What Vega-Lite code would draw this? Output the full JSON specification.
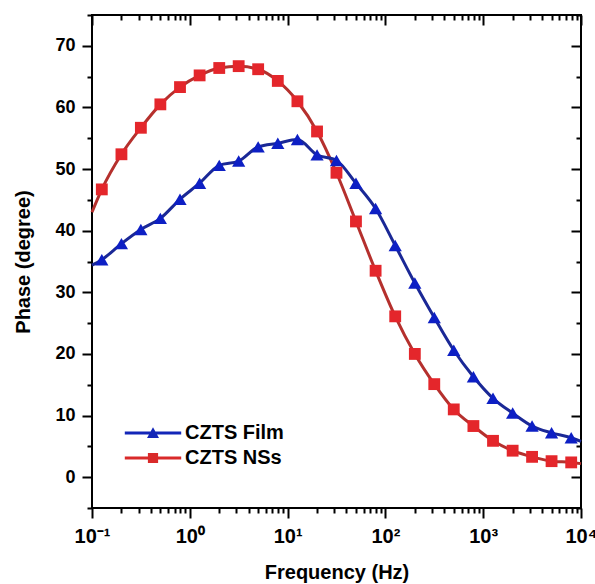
{
  "$schema": "https://vega.github.io/schema/vega-lite/v6.json",
  "width": 489,
  "height": 493,
  "autosize": "none",
  "padding": {"left": 92, "top": 15, "right": 14, "bottom": 76},
  "background": "white",
  "config": {
    "view": {"stroke": "black", "strokeWidth": 2},
    "font": "Liberation Sans",
    "axis": {"grid": false, "domain": false, "tickColor": "black", "tickWidth": 2, "labelColor": "black", "titleColor": "black", "labelFont": "Liberation Sans", "titleFont": "Liberation Sans", "labelFontWeight": "bold", "titleFontWeight": "bold"}
  },
  "data": {
    "values": [
      {"series": "CZTS NSs", "f": 0.1, "phase": 43.0},
      {"series": "CZTS NSs", "f": 0.126, "phase": 46.7},
      {"series": "CZTS NSs", "f": 0.2, "phase": 52.4},
      {"series": "CZTS NSs", "f": 0.316, "phase": 56.7},
      {"series": "CZTS NSs", "f": 0.5, "phase": 60.5},
      {"series": "CZTS NSs", "f": 0.794, "phase": 63.3},
      {"series": "CZTS NSs", "f": 1.26, "phase": 65.2},
      {"series": "CZTS NSs", "f": 2.0, "phase": 66.4},
      {"series": "CZTS NSs", "f": 3.16, "phase": 66.7},
      {"series": "CZTS NSs", "f": 5.0, "phase": 66.2},
      {"series": "CZTS NSs", "f": 7.94, "phase": 64.3},
      {"series": "CZTS NSs", "f": 12.6, "phase": 61.0},
      {"series": "CZTS NSs", "f": 20, "phase": 56.1},
      {"series": "CZTS NSs", "f": 31.6, "phase": 49.4},
      {"series": "CZTS NSs", "f": 50, "phase": 41.5},
      {"series": "CZTS NSs", "f": 79.4, "phase": 33.5},
      {"series": "CZTS NSs", "f": 126, "phase": 26.1},
      {"series": "CZTS NSs", "f": 200, "phase": 20.0},
      {"series": "CZTS NSs", "f": 316, "phase": 15.1},
      {"series": "CZTS NSs", "f": 500, "phase": 11.0},
      {"series": "CZTS NSs", "f": 794, "phase": 8.3},
      {"series": "CZTS NSs", "f": 1260, "phase": 5.9},
      {"series": "CZTS NSs", "f": 2000, "phase": 4.3},
      {"series": "CZTS NSs", "f": 3160, "phase": 3.3},
      {"series": "CZTS NSs", "f": 5000, "phase": 2.6},
      {"series": "CZTS NSs", "f": 7940, "phase": 2.4},
      {"series": "CZTS NSs", "f": 10000, "phase": 2.2},
      {"series": "CZTS Film", "f": 0.1, "phase": 34.4},
      {"series": "CZTS Film", "f": 0.126, "phase": 35.3},
      {"series": "CZTS Film", "f": 0.2, "phase": 37.9},
      {"series": "CZTS Film", "f": 0.316, "phase": 40.2},
      {"series": "CZTS Film", "f": 0.5, "phase": 42.0},
      {"series": "CZTS Film", "f": 0.794, "phase": 45.1},
      {"series": "CZTS Film", "f": 1.26, "phase": 47.7},
      {"series": "CZTS Film", "f": 2.0, "phase": 50.6},
      {"series": "CZTS Film", "f": 3.16, "phase": 51.3},
      {"series": "CZTS Film", "f": 5.0, "phase": 53.6},
      {"series": "CZTS Film", "f": 7.94, "phase": 54.2},
      {"series": "CZTS Film", "f": 12.6, "phase": 54.8},
      {"series": "CZTS Film", "f": 20, "phase": 52.3},
      {"series": "CZTS Film", "f": 31.6, "phase": 51.4},
      {"series": "CZTS Film", "f": 50, "phase": 47.7},
      {"series": "CZTS Film", "f": 79.4, "phase": 43.6},
      {"series": "CZTS Film", "f": 126, "phase": 37.6},
      {"series": "CZTS Film", "f": 200, "phase": 31.5},
      {"series": "CZTS Film", "f": 316, "phase": 25.9},
      {"series": "CZTS Film", "f": 500, "phase": 20.6},
      {"series": "CZTS Film", "f": 794, "phase": 16.3},
      {"series": "CZTS Film", "f": 1260, "phase": 12.8},
      {"series": "CZTS Film", "f": 2000, "phase": 10.4},
      {"series": "CZTS Film", "f": 3160, "phase": 8.3},
      {"series": "CZTS Film", "f": 5000, "phase": 7.2},
      {"series": "CZTS Film", "f": 7940, "phase": 6.4},
      {"series": "CZTS Film", "f": 10000, "phase": 5.8}
    ]
  },
  "layer": [
    {
      "mark": {"type": "line", "interpolate": "monotone", "strokeWidth": 3},
      "encoding": {
        "x": {"field": "f", "type": "quantitative", "scale": {"type": "log", "domain": [0.1, 10000], "nice": false},
          "axis": {"orient": "bottom", "values": [0.1, 1, 10, 100, 1000, 10000], "tickSize": 10, "labelFontSize": 20, "labelPadding": 8, "labelFlush": false, "labelOverlap": false, "labelBound": false,
            "labelExpr": "datum.value < 0.5 ? '10⁻¹' : datum.value < 5 ? '10⁰' : datum.value < 50 ? '10¹' : datum.value < 500 ? '10²' : datum.value < 5000 ? '10³' : '10⁴'",
            "title": "Frequency (Hz)", "titleFontSize": 20, "titlePadding": 16}},
        "y": {"field": "phase", "type": "quantitative", "scale": {"domain": [-5, 75], "nice": false, "zero": false},
          "axis": {"orient": "left", "values": [0, 10, 20, 30, 40, 50, 60, 70], "tickSize": 10, "labelFontSize": 18, "labelPadding": 7,
            "title": "Phase (degree)", "titleFontSize": 20, "titlePadding": 21}},
        "stroke": {"field": "series", "type": "nominal", "scale": {"domain": ["CZTS Film", "CZTS NSs"], "range": ["#1a2896", "#b5302d"]},
          "legend": {"orient": "none", "legendX": 29, "legendY": 408, "title": null, "padding": 0, "labelFont": "Liberation Sans", "labelFontSize": 20, "labelFontWeight": "bold", "labelColor": "black", "symbolSize": 144, "symbolOffset": 22, "labelOffset": 22, "rowPadding": 5, "symbolStrokeWidth": 0,
            "encode": {"symbols": {"update": {
              "shape": {"signal": "datum.value === 'CZTS Film' ? 'M-4.7,-0.25L4.7,-0.25L4.7,0.25L-4.7,0.25ZM-1,0.85L0,-0.95L1,0.85Z' : 'M-4.7,-0.25L4.7,-0.25L4.7,0.25L-4.7,0.25ZM-0.85,-0.85L0.85,-0.85L0.85,0.85L-0.85,0.85Z'"},
              "fill": {"signal": "datum.value === 'CZTS Film' ? '#1326b8' : '#d92a2a'"},
              "strokeWidth": {"value": 0},
              "opacity": {"value": 1}
            }}}}}
      }
    },
    {
      "transform": [{"filter": "datum.series === 'CZTS Film' && datum.f > 0.1 && datum.f < 10000"}],
      "mark": {"type": "point", "shape": "triangle-up", "filled": true, "size": 175, "opacity": 1, "color": "#0d1fc4"},
      "encoding": {
        "x": {"field": "f", "type": "quantitative", "scale": {"type": "log", "domain": [0.1, 10000], "nice": false},
          "axis": {"orient": "bottom", "values": [0.2, 0.3, 0.4, 0.5, 0.6, 0.7, 0.8, 0.9, 2, 3, 4, 5, 6, 7, 8, 9, 20, 30, 40, 50, 60, 70, 80, 90, 200, 300, 400, 500, 600, 700, 800, 900, 2000, 3000, 4000, 5000, 6000, 7000, 8000, 9000], "tickSize": 5, "labels": false, "title": null}},
        "y": {"field": "phase", "type": "quantitative", "scale": {"domain": [-5, 75], "nice": false, "zero": false},
          "axis": {"orient": "left", "values": [-5, 5, 15, 25, 35, 45, 55, 65, 75], "tickSize": 5, "labels": false, "title": null}}
      }
    },
    {
      "transform": [{"filter": "datum.series === 'CZTS NSs' && datum.f > 0.1 && datum.f < 10000"}],
      "mark": {"type": "point", "shape": "square", "filled": true, "size": 140, "opacity": 1, "color": "#e4262b"},
      "encoding": {
        "x": {"field": "f", "type": "quantitative", "scale": {"type": "log", "domain": [0.1, 10000], "nice": false},
          "axis": {"orient": "top", "values": [0.1, 1, 10, 100, 1000, 10000], "tickSize": -10, "labels": false, "title": null}},
        "y": {"field": "phase", "type": "quantitative", "scale": {"domain": [-5, 75], "nice": false, "zero": false},
          "axis": {"orient": "right", "values": [0, 10, 20, 30, 40, 50, 60, 70], "tickSize": -10, "labels": false, "title": null}}
      }
    },
    {
      "mark": {"type": "point", "opacity": 0},
      "encoding": {
        "x": {"field": "f", "type": "quantitative", "scale": {"type": "log", "domain": [0.1, 10000], "nice": false},
          "axis": {"orient": "top", "values": [0.2, 0.3, 0.4, 0.5, 0.6, 0.7, 0.8, 0.9, 2, 3, 4, 5, 6, 7, 8, 9, 20, 30, 40, 50, 60, 70, 80, 90, 200, 300, 400, 500, 600, 700, 800, 900, 2000, 3000, 4000, 5000, 6000, 7000, 8000, 9000], "tickSize": -5, "labels": false, "title": null}},
        "y": {"field": "phase", "type": "quantitative", "scale": {"domain": [-5, 75], "nice": false, "zero": false},
          "axis": {"orient": "right", "values": [-5, 5, 15, 25, 35, 45, 55, 65, 75], "tickSize": -5, "labels": false, "title": null}}
      }
    }
  ],
  "resolve": {"axis": {"x": "independent", "y": "independent"}}
}
